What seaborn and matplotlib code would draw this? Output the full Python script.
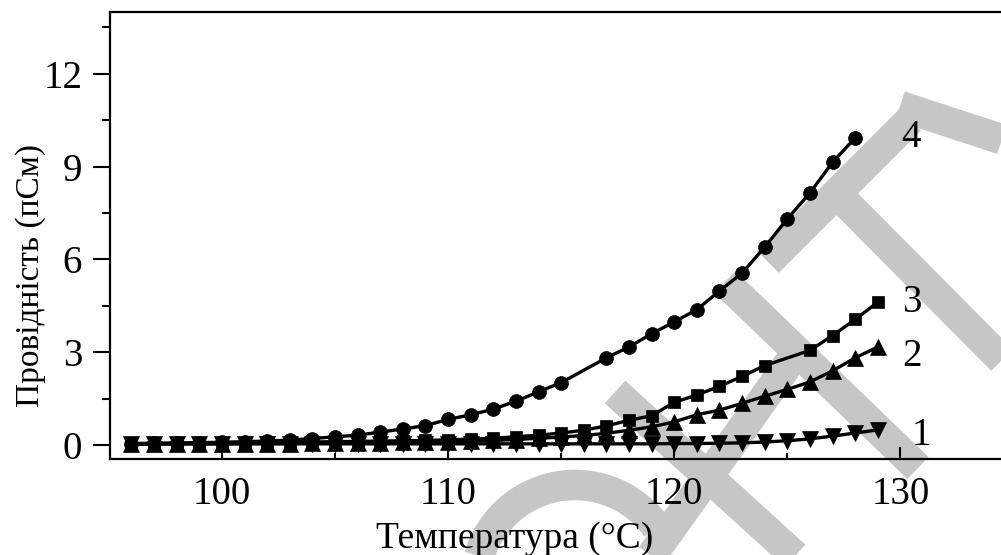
import numpy as np
import pandas as pd
import seaborn as sns
import matplotlib
matplotlib.use('Agg')
from matplotlib import pyplot as plt
from matplotlib.lines import Line2D
from matplotlib.ticker import MultipleLocator

#%% data (temperature, conductance in pS)
temps_1 = [96, 97, 98, 99, 100, 101, 102, 103, 104, 105, 106, 107, 108, 109, 110, 111, 112,
           113, 114, 115, 116, 117, 118, 119, 120, 121, 122, 123, 124, 125, 126, 127, 128, 129]
cond_1 = [0.04, 0.04, 0.04, 0.04, 0.04, 0.04, 0.04, 0.04, 0.04, 0.04, 0.04, 0.04, 0.04, 0.04,
          0.04, 0.04, 0.04, 0.04, 0.04, 0.04, 0.04, 0.04, 0.04, 0.04, 0.05, 0.05, 0.06, 0.07,
          0.10, 0.14, 0.20, 0.29, 0.39, 0.49]

temps_2 = [96, 97, 98, 99, 100, 101, 102, 103, 104, 105, 106, 107, 108, 109, 110, 111, 112,
           113, 114, 115, 116, 117, 118, 119, 120, 121, 122, 123, 124, 125, 126, 127, 128, 129]
cond_2 = [0.03, 0.03, 0.04, 0.04, 0.04, 0.05, 0.05, 0.05, 0.06, 0.06, 0.07, 0.08, 0.09, 0.10,
          0.11, 0.13, 0.15, 0.18, 0.22, 0.26, 0.31, 0.38, 0.48, 0.59, 0.75, 0.98, 1.13, 1.35,
          1.58, 1.80, 2.04, 2.40, 2.82, 3.17]

temps_3 = [96, 97, 98, 99, 100, 101, 102, 103, 104, 105, 106, 107, 108, 109, 110, 111, 112,
           113, 114, 115, 116, 117, 118, 119, 120, 121, 122, 123, 124, 126, 127, 128, 129]
cond_3 = [0.04, 0.05, 0.05, 0.06, 0.06, 0.07, 0.08, 0.09, 0.10, 0.11, 0.12, 0.13, 0.14, 0.15,
          0.17, 0.19, 0.22, 0.27, 0.32, 0.39, 0.48, 0.62, 0.80, 0.95, 1.38, 1.62, 1.90, 2.22,
          2.57, 3.06, 3.54, 4.06, 4.62]

temps_4 = [96, 97, 98, 99, 100, 101, 102, 103, 104, 105, 106, 107, 108, 109, 110, 111, 112,
           113, 114, 115, 117, 118, 119, 120, 121, 122, 123, 124, 125, 126, 127, 128]
cond_4 = [0.05, 0.06, 0.07, 0.08, 0.09, 0.11, 0.13, 0.16, 0.21, 0.27, 0.32, 0.42, 0.52, 0.63,
          0.83, 0.98, 1.16, 1.42, 1.72, 2.02, 2.82, 3.17, 3.60, 3.98, 4.38, 4.98, 5.56, 6.40,
          7.31, 8.15, 9.14, 9.93]

curve_names = ['1', '2', '3', '4']
curve_markers = {'1': 'v', '2': '^', '3': 's', '4': 'o'}
marker_sizes = {'1': 11, '2': 11, '3': 9, '4': 10}

df = pd.concat([
    pd.DataFrame({'T': temps_1, 'G': cond_1, 'curve': '1'}),
    pd.DataFrame({'T': temps_2, 'G': cond_2, 'curve': '2'}),
    pd.DataFrame({'T': temps_3, 'G': cond_3, 'curve': '3'}),
    pd.DataFrame({'T': temps_4, 'G': cond_4, 'curve': '4'}),
], ignore_index=True)

#%% style
sns.set_style('ticks')
plt.rcParams['font.family'] = ['Liberation Serif', 'DejaVu Serif']
plt.rcParams.update({'text.color': 'black', 'axes.labelcolor': 'black',
                     'xtick.color': 'black', 'ytick.color': 'black',
                     'axes.edgecolor': 'black'})

W, H = 1001, 555
fig = plt.figure(figsize=(W / 100, H / 100), dpi=100)
ax = fig.add_axes([110 / W, 1 - 459 / H, 1 - 110 / W, (459 - 12) / H])

# grey watermark strokes (figure pixel coords)
wm_color = '#c6c6c6'
wm_lw = 22
wm_segments = [((615, 392), (805, 565)),
               ((645, 565), (797, 352)),
               ((725, 282), (918, 468)),
               ((768, 262), (910, 120)),
               ((835, 192), (1010, 368)),
               ((900, 106), (1010, 142))]
for (x0, y0), (x1, y1) in wm_segments:
    ax.add_line(Line2D([x0 / W, x1 / W], [1 - y0 / H, 1 - y1 / H], transform=fig.transFigure,
                       color=wm_color, lw=wm_lw, solid_capstyle='butt', clip_on=False, zorder=0.5))
th = np.radians(np.linspace(35, 172, 60))
ax.add_line(Line2D((575 + 100 * np.cos(th)) / W, 1 - (585 - 100 * np.sin(th)) / H,
                   transform=fig.transFigure, color=wm_color, lw=wm_lw,
                   solid_capstyle='butt', clip_on=False, zorder=0.5))

for name in curve_names:
    sub = df[df['curve'] == name]
    sns.lineplot(data=sub, x='T', y='G', color='black', marker=curve_markers[name],
                 markersize=marker_sizes[name], markeredgewidth=0.5, markeredgecolor='black',
                 linewidth=2.4, sort=False, ax=ax)

# curve numbers beside the last point of each series
label_offsets = {'1': (44, -6), '2': (34, -9), '3': (34, 0), '4': (56, 0)}
for name in curve_names:
    sub = df[df['curve'] == name]
    ax.annotate(name, xy=(sub['T'].iloc[-1], sub['G'].iloc[-1]), xytext=label_offsets[name],
                textcoords='offset pixels', ha='center', va='center', fontsize=28)

ax.set_xlim(95.05, 134.45)
ax.set_ylim(-0.45, 14.0)
ax.xaxis.set_major_locator(MultipleLocator(10))
ax.xaxis.set_minor_locator(MultipleLocator(5))
ax.yaxis.set_major_locator(MultipleLocator(3))
ax.yaxis.set_minor_locator(MultipleLocator(1.5))
ax.tick_params(axis='y', which='major', direction='out', length=12, width=1.5, labelsize=28, pad=8)
ax.tick_params(axis='y', which='minor', direction='out', length=6, width=1.5)
ax.tick_params(axis='x', which='major', direction='in', length=9, width=1.5, labelsize=28, pad=12)
ax.tick_params(axis='x', which='minor', direction='in', length=4.5, width=1.5)
ax.spines['right'].set_visible(False)
for s in ['left', 'bottom', 'top']:
    ax.spines[s].set_linewidth(1.6)

ax.set_xlabel('Температура (°C)', fontsize=27)
ax.set_ylabel('Провідність (пСм)', fontsize=24)
ax.xaxis.set_label_coords(0.454, -0.14)
ax.yaxis.set_label_coords(-0.072, 0.41)

fig.savefig('out.png', dpi=100)
